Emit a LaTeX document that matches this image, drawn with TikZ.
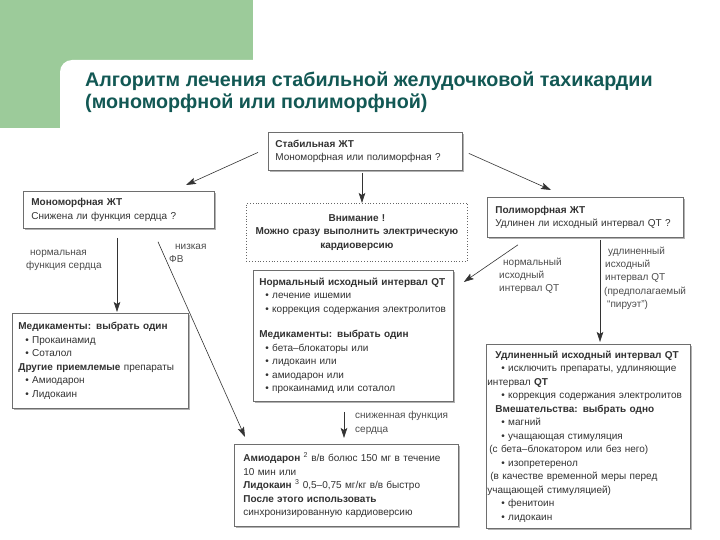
\documentclass[tikz,border=0pt]{standalone}
\usepackage{fontspec}
\setmainfont{Liberation Sans}
\usetikzlibrary{arrows.meta,calc,shadows}
\definecolor{grn}{RGB}{156,203,154}
\definecolor{ttl}{RGB}{18,88,84}
\definecolor{txt}{RGB}{50,50,50}
\definecolor{bord}{RGB}{110,110,110}
\begin{document}
\begin{tikzpicture}[x=1pt,y=-1pt,
  bx/.style n args={3}{draw=bord, line width=0.8pt, fill=white, anchor=north west,
     align=left, inner ysep=0pt, inner xsep=#3pt, text width={#1pt-2*#3pt},
     minimum height=#2pt, text=txt, font=\fontsize{10}{13.5}\selectfont},
  shd/.style={drop shadow={shadow xshift=1.2pt, shadow yshift=-1.2pt, fill=black!30, opacity=1}},
  lbl/.style={anchor=north west, align=left, inner sep=0pt, text=black!70,
     font=\fontsize{10}{13.4}\selectfont},
  arr/.style={draw=black!80, line width=0.6pt, -{Stealth[length=10pt,width=6.5pt,inset=2pt]}},
  ttlfont/.style={anchor=base west, inner sep=0pt, text=ttl,
     font=\bfseries\fontsize{19.7}{22}\selectfont}]
\useasboundingbox (0,0) rectangle (720,540);
\fill[white] (0,0) rectangle (720,540);
\fill[grn] (0,0) rectangle (253,128);
\fill[white] (60,540) -- (60,72) arc[start angle=180,end angle=270,radius=12] -- (720,60) -- (720,540) -- cycle;

\node[ttlfont] (title1) at (85,87) {Алгоритм лечения стабильной желудочковой тахикардии};
\node[ttlfont] (title2) at (85,109) {(мономорфной или полиморфной)};

\node[bx={194}{38}{7}, shd] (stab) at (268,132)
  {\textbf{Стабильная ЖТ}\\Мономорфная или полиморфная ?};
\node[bx={191}{37}{8}, shd] (mono) at (23,191)
  {\textbf{Мономорфная ЖТ}\\Снижена ли функция сердца ?};
\node[bx={221}{58}{4}, dotted, draw=black!60, align=center] (warn) at (246,203)
  {\textbf{Внимание !}\\\textbf{Можно сразу выполнить электрическую}\\\textbf{кардиоверсию}};
\node[bx={196}{40}{8}, shd] (pol) at (487,197)
  {\textbf{Полиморфная ЖТ}\\Удлинен ли исходный интервал QT ?};
\node[bx={200}{131}{6}, shd] (norm) at (253,270)
  {\textbf{Нормальный исходный интервал QT}\\
   \hspace*{6pt}• лечение ишемии\\
   \hspace*{6pt}• коррекция содержания электролитов\\[12pt]
   \textbf{Медикаменты: выбрать один}\\
   \hspace*{6pt}• бета–блокаторы или\\
   \hspace*{6pt}• лидокаин или\\
   \hspace*{6pt}• амиодарон или\\
   \hspace*{6pt}• прокаинамид или соталол};
\node[bx={176}{95}{6}, shd] (med) at (12,313)
  {\textbf{Медикаменты: выбрать один}\\
   \hspace*{7pt}• Прокаинамид\\
   \hspace*{7pt}• Соталол\\
   \textbf{Другие приемлемые} препараты\\
   \hspace*{7pt}• Амиодарон\\
   \hspace*{7pt}• Лидокаин};
\node[bx={204}{184}{1}, shd] (udl) at (486,344)
  {\hspace*{8pt}\textbf{Удлиненный исходный интервал QT}\\
   \hspace*{14pt}• исключить препараты, удлиняющие\\
   интервал \textbf{QT}\\
   \hspace*{14pt}• коррекция содержания электролитов\\
   \hspace*{8pt}\textbf{Вмешательства: выбрать одно}\\
   \hspace*{14pt}• магний\\
   \hspace*{14pt}• учащающая стимуляция\\
   \hspace*{2pt}(с бета–блокатором или без него)\\
   \hspace*{14pt}• изопретеренол\\
   \hspace*{3pt}(в качестве временной меры перед\\
   учащающей стимуляцией)\\
   \hspace*{14pt}• фенитоин\\
   \hspace*{14pt}• лидокаин};
\node[bx={224}{82}{9}, shd] (amio) at (234,444)
  {\textbf{Амиодарон} \textsuperscript{2} в/в болюс 150 мг в течение\\
   10 мин или\\
   \textbf{Лидокаин} \textsuperscript{3} 0,5–0,75 мг/кг в/в быстро\\
   \textbf{После этого использовать}\\
   синхронизированную кардиоверсию};

\node[lbl] (l1) at (26,250) {\hspace*{4pt}нормальная\\функция сердца};
\node[lbl] (l2) at (169,243.5) {\hspace*{6pt}низкая\\ФВ};
\node[lbl] (l3) at (499,257.5) {\hspace*{4pt}нормальный\\исходный\\интервал QT};
\node[lbl] (l4) at (604,246.5) {\hspace*{4pt}удлиненный\\\hspace*{1pt}исходный\\\hspace*{1pt}интервал QT\\(предполагаемый\\\hspace*{3pt}“пируэт”)};
\node[lbl] (l5) at (355,411.5) {сниженная функция\\сердца};

\coordinate (a1s) at ($(stab.west)+(-10,1)$);
\coordinate (a1e) at ($(mono.north west)+(163,-6)$);
\coordinate (a2s) at ($(stab.east)+(6,2)$);
\coordinate (a2e) at ($(pol.north west)+(64,-7)$);
\coordinate (a3s) at ($(stab.south west)+(94,2)$);
\coordinate (a3e) at ($(warn.north west)+(116,0)$);
\coordinate (a4s) at ($(mono.south west)+(94,9)$);
\coordinate (a4e) at ($(med.north west)+(105,-1)$);
\coordinate (a5s) at ($(mono.south west)+(135,13)$);
\coordinate (a5e) at ($(amio.north west)+(11,-7)$);
\coordinate (a6s) at ($(pol.south west)+(31,7)$);
\coordinate (a6e) at ($(norm.north east)+(10,12)$);
\coordinate (a7s) at ($(pol.south west)+(113,2)$);
\coordinate (a7e) at ($(udl.north west)+(114,-2)$);
\coordinate (a8s) at ($(norm.south west)+(91,10)$);
\coordinate (a8e) at ($(amio.north west)+(110,-6)$);

\draw[arr] (a1s) -- (a1e);
\draw[arr] (a2s) -- (a2e);
\draw[arr] (a3s) -- (a3e);
\draw[arr] (a4s) -- (a4e);
\draw[arr] (a5s) -- (a5e);
\draw[arr] (a6s) -- (a6e);
\draw[arr] (a7s) -- (a7e);
\draw[arr] (a8s) -- (a8e);
\end{tikzpicture}
\end{document}
